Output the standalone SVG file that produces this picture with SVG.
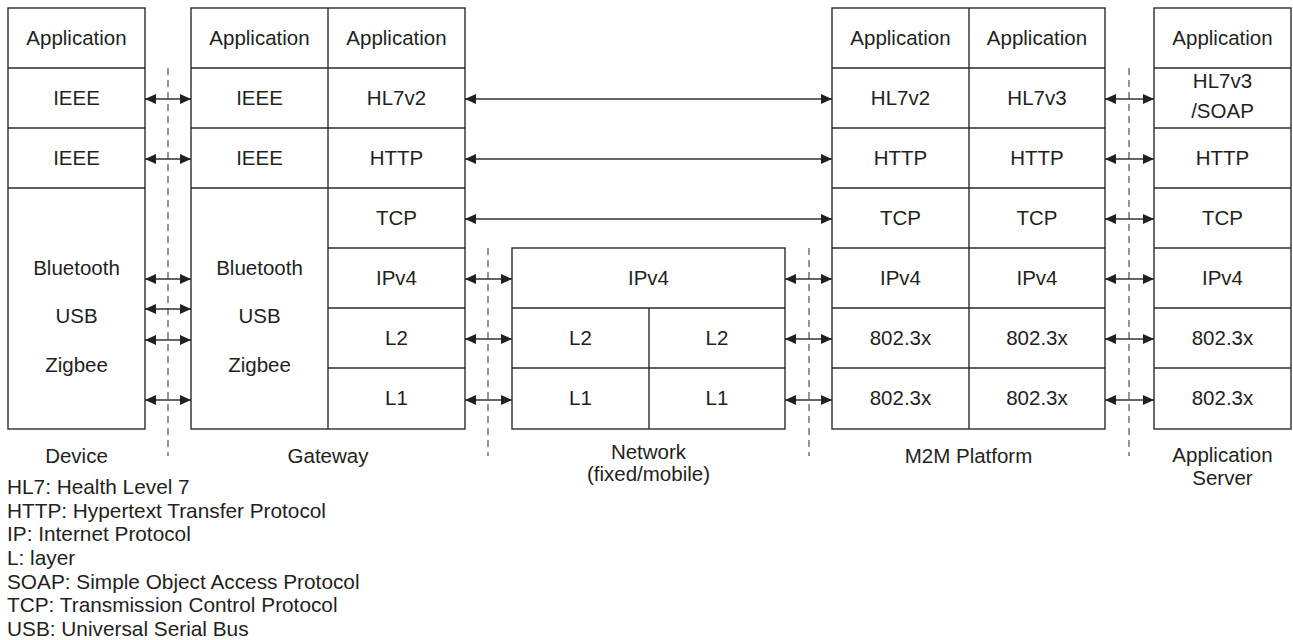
<svg xmlns="http://www.w3.org/2000/svg" width="1293" height="640" viewBox="0 0 1293 640">
<style>
  .box { fill: #fff; stroke: #2b2b2b; stroke-width: 1.4; }
  .ln { stroke: #2b2b2b; stroke-width: 1.4; fill: none; }
  .dash { stroke: #6a6a6a; stroke-width: 1.4; stroke-dasharray: 7 5; fill: none; }
  .arr { stroke: #333; stroke-width: 1.4; fill: none; marker-start: url(#ah); marker-end: url(#ah); }
  text { font-family: "Liberation Sans", Arial, sans-serif; font-size: 20.5px; fill: #231f20; }
  .c { text-anchor: middle; }
  .lg { font-size: 20.8px; }
</style>
<defs>
  <marker id="ah" viewBox="0 0 11 10" refX="11" refY="5" markerWidth="11" markerHeight="10" markerUnits="userSpaceOnUse" orient="auto-start-reverse">
    <path d="M0,0 L11,5 L0,10 z" fill="#231f20"/>
  </marker>
</defs>
<rect width="1293" height="640" fill="#fff"/>

<g id="device">
  <rect class="box" x="8" y="8" width="137" height="421"/>
  <path class="ln" d="M8,68H145M8,128H145M8,188H145"/>
  <text class="c" x="76.5" y="45">Application</text>
  <text class="c" x="76.5" y="105">IEEE</text>
  <text class="c" x="76.5" y="165">IEEE</text>
  <text class="c" x="76.5" y="275">Bluetooth</text>
  <text class="c" x="76.5" y="323">USB</text>
  <text class="c" x="76.5" y="372">Zigbee</text>
  <text class="c" x="76.5" y="463">Device</text>
</g>

<g id="gateway">
  <rect class="box" x="191" y="8" width="274" height="421"/>
  <path class="ln" d="M328,8V429M191,68H465M191,128H465M191,188H465M328,248H465M328,308H465M328,368H465"/>
  <text class="c" x="259.5" y="45">Application</text>
  <text class="c" x="259.5" y="105">IEEE</text>
  <text class="c" x="259.5" y="165">IEEE</text>
  <text class="c" x="259.5" y="275">Bluetooth</text>
  <text class="c" x="259.5" y="323">USB</text>
  <text class="c" x="259.5" y="372">Zigbee</text>
  <text class="c" x="396.5" y="45">Application</text>
  <text class="c" x="396.5" y="105">HL7v2</text>
  <text class="c" x="396.5" y="165">HTTP</text>
  <text class="c" x="396.5" y="225">TCP</text>
  <text class="c" x="396.5" y="285">IPv4</text>
  <text class="c" x="396.5" y="345">L2</text>
  <text class="c" x="396.5" y="405">L1</text>
  <text class="c" x="328" y="463">Gateway</text>
</g>

<g id="network">
  <rect class="box" x="512" y="248" width="273" height="181"/>
  <path class="ln" d="M512,308H785M512,368H785M649,308V429"/>
  <text class="c" x="648.5" y="285">IPv4</text>
  <text class="c" x="580.5" y="345">L2</text>
  <text class="c" x="717" y="345">L2</text>
  <text class="c" x="580.5" y="405">L1</text>
  <text class="c" x="717" y="405">L1</text>
  <text class="c" x="648.5" y="459">Network</text>
  <text class="c" x="648.5" y="481">(fixed/mobile)</text>
</g>

<g id="m2m-platform">
  <rect class="box" x="832" y="8" width="273" height="421"/>
  <path class="ln" d="M969,8V429M832,68H1105M832,128H1105M832,188H1105M832,248H1105M832,308H1105M832,368H1105"/>
  <text class="c" x="900.5" y="45">Application</text>
  <text class="c" x="900.5" y="105">HL7v2</text>
  <text class="c" x="900.5" y="165">HTTP</text>
  <text class="c" x="900.5" y="225">TCP</text>
  <text class="c" x="900.5" y="285">IPv4</text>
  <text class="c" x="900.5" y="345">802.3x</text>
  <text class="c" x="900.5" y="405">802.3x</text>
  <text class="c" x="1037" y="45">Application</text>
  <text class="c" x="1037" y="105">HL7v3</text>
  <text class="c" x="1037" y="165">HTTP</text>
  <text class="c" x="1037" y="225">TCP</text>
  <text class="c" x="1037" y="285">IPv4</text>
  <text class="c" x="1037" y="345">802.3x</text>
  <text class="c" x="1037" y="405">802.3x</text>
  <text class="c" x="968.5" y="463">M2M Platform</text>
</g>

<g id="application-server">
  <rect class="box" x="1154" y="8" width="137" height="421"/>
  <path class="ln" d="M1154,68H1291M1154,128H1291M1154,188H1291M1154,248H1291M1154,308H1291M1154,368H1291"/>
  <text class="c" x="1222.5" y="45">Application</text>
  <text class="c" x="1222.5" y="88">HL7v3</text>
  <text class="c" x="1222.5" y="118">/SOAP</text>
  <text class="c" x="1222.5" y="165">HTTP</text>
  <text class="c" x="1222.5" y="225">TCP</text>
  <text class="c" x="1222.5" y="285">IPv4</text>
  <text class="c" x="1222.5" y="345">802.3x</text>
  <text class="c" x="1222.5" y="405">802.3x</text>
  <text class="c" x="1222.5" y="462">Application</text>
  <text class="c" x="1222.5" y="485">Server</text>
</g>

<g id="boundaries">
  <path class="dash" d="M168,68V456"/>
  <path class="dash" d="M488,248V456"/>
  <path class="dash" d="M809,248V456"/>
  <path class="dash" d="M1129,68V456"/>
</g>

<g id="connectors">
  <path class="arr" d="M145,99H191"/>
  <path class="arr" d="M145,159H191"/>
  <path class="arr" d="M145,279H191"/>
  <path class="arr" d="M145,309H191"/>
  <path class="arr" d="M145,340H191"/>
  <path class="arr" d="M145,400H191"/>
  <path class="arr" d="M465,99H832"/>
  <path class="arr" d="M465,159H832"/>
  <path class="arr" d="M465,219H832"/>
  <path class="arr" d="M465,279H512"/>
  <path class="arr" d="M465,339H512"/>
  <path class="arr" d="M465,400H512"/>
  <path class="arr" d="M785,279H832"/>
  <path class="arr" d="M785,339H832"/>
  <path class="arr" d="M785,400H832"/>
  <path class="arr" d="M1105,99H1154"/>
  <path class="arr" d="M1105,159H1154"/>
  <path class="arr" d="M1105,219H1154"/>
  <path class="arr" d="M1105,279H1154"/>
  <path class="arr" d="M1105,339H1154"/>
  <path class="arr" d="M1105,400H1154"/>
</g>

<g id="legend">
  <text class="lg" x="7" y="494">HL7: Health Level 7</text>
  <text class="lg" x="7" y="518">HTTP: Hypertext Transfer Protocol</text>
  <text class="lg" x="7" y="541">IP: Internet Protocol</text>
  <text class="lg" x="7" y="565">L: layer</text>
  <text class="lg" x="7" y="589">SOAP: Simple Object Access Protocol</text>
  <text class="lg" x="7" y="612">TCP: Transmission Control Protocol</text>
  <text class="lg" x="7" y="636">USB: Universal Serial Bus</text>
</g>
</svg>
